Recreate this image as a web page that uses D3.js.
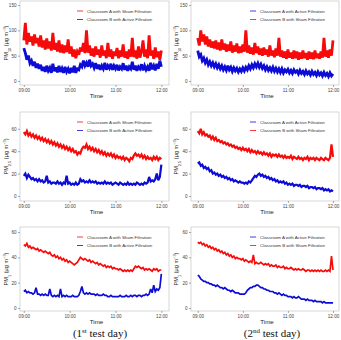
<!DOCTYPE html>
<html>
<head>
<meta charset="utf-8">
<script src="https://cdn.jsdelivr.net/npm/d3@7"></script>
<style>
  body { margin: 0; background: #fff; }
  svg { display: block; font-family: "Liberation Sans", Arial, sans-serif; }
</style>
</head>
<body>
<svg id="chart" width="341" height="340"></svg>
<script>
// sampling step of every series, minutes after 09:00
const stepMin = 2;
const timeTicks = [0, 60, 120, 180];
const timeLabels = ["09:00", "10:00", "11:00", "12:00"];

// PM10, day 1
const pm10Day1Red = [80, 115, 72, 95, 78, 88,
  70, 92, 75, 85, 68, 90, 66, 80, 62, 84, 64, 78, 60, 95, 62,
  75, 58, 80, 56, 72, 55, 70, 57, 82, 54, 68, 48, 62, 45, 58,
  52, 66, 58, 75, 55, 100, 56, 70, 50, 64, 48, 68, 52, 62, 46,
  70, 50, 60, 45, 75, 48, 62, 44, 58, 50, 65, 45, 60, 48, 72,
  46, 58, 44, 62, 48, 85, 47, 60, 44, 68, 46, 58, 80, 48, 62,
  45, 90, 50, 60, 44, 66, 47, 58, 42, 60];
const pm10Day1Blue = [65, 55, 42, 50, 35, 40,
  30, 38, 26, 34, 24, 32, 20, 28, 18, 30, 20, 26, 16, 34, 19,
  27, 17, 30, 18, 25, 16, 28, 18, 24, 15, 26, 17, 30, 16, 24,
  22, 32, 28, 40, 30, 36, 28, 42, 30, 34, 26, 35, 24, 32, 22,
  30, 24, 36, 22, 30, 25, 34, 22, 30, 24, 32, 21, 28, 24, 35,
  22, 30, 20, 28, 24, 38, 22, 30, 20, 28, 24, 33, 21, 30, 22,
  28, 20, 36, 23, 30, 21, 34, 24, 40, 28];
// PM10, day 2
const pm10Day2Red = [85, 70, 100, 78, 92, 72,
  88, 68, 82, 66, 78, 64, 80, 62, 76, 60, 82, 62, 74, 58, 72,
  60, 78, 56, 70, 58, 74, 55, 68, 56, 72, 58, 100, 56, 70, 54,
  66, 52, 75, 55, 68, 52, 64, 50, 66, 52, 62, 48, 70, 50, 60,
  47, 64, 50, 85, 48, 60, 46, 58, 44, 62, 46, 56, 44, 60, 45,
  58, 42, 56, 44, 60, 45, 55, 42, 58, 44, 56, 43, 60, 45, 54,
  44, 58, 46, 85, 48, 60, 46, 62, 50, 80];
const pm10Day2Blue = [60, 48, 52, 40, 45, 36,
  42, 32, 38, 30, 36, 28, 34, 26, 32, 24, 30, 22, 28, 21, 30,
  22, 27, 19, 26, 20, 25, 18, 24, 19, 26, 20, 27, 22, 30, 24,
  32, 26, 34, 28, 35, 27, 33, 25, 30, 22, 28, 21, 26, 20, 27,
  19, 25, 18, 24, 17, 24, 16, 22, 18, 23, 16, 21, 15, 22, 17,
  20, 14, 21, 15, 19, 13, 20, 14, 18, 12, 19, 13, 17, 11, 18,
  12, 16, 10, 17, 11, 15, 9, 16, 10, 14];

// PM2.5, day 1
const pm25Day1Red = [57, 55, 58, 54, 56, 53,
  55, 52, 54, 51, 53, 50, 52, 49, 51, 48, 50, 47, 49, 46, 48,
  45, 47, 44, 46, 43, 45, 42, 44, 41, 43, 40, 42, 39, 40, 37,
  39, 38, 42, 44, 43, 46, 42, 44, 41, 43, 40, 42, 39, 41, 38,
  40, 37, 39, 36, 38, 36, 38, 35, 37, 34, 36, 34, 35, 33, 35,
  32, 34, 33, 31, 34, 33, 36, 38, 36, 37, 35, 37, 34, 36, 33,
  35, 33, 34, 32, 35, 33, 35, 32, 34, 33];
const pm25Day1Blue = [18, 20, 16, 19, 17, 15,
  16, 14, 15, 13, 15, 13, 14, 12, 13, 18, 12, 13, 11, 12, 12,
  11, 13, 11, 12, 10, 12, 11, 18, 11, 12, 10, 11, 10, 12, 10,
  11, 15, 13, 14, 12, 13, 12, 14, 12, 13, 12, 13, 11, 12, 11,
  12, 11, 13, 11, 12, 11, 12, 10, 11, 12, 11, 10, 12, 11, 10,
  11, 10, 12, 10, 11, 10, 11, 10, 12, 11, 10, 11, 10, 12, 11,
  12, 17, 13, 14, 13, 15, 20, 14, 17, 28];
// PM2.5, day 2
const pm25Day2Red = [58, 56, 60, 55, 57, 54,
  55, 53, 54, 51, 53, 50, 52, 49, 50, 48, 49, 47, 48, 46, 47,
  45, 46, 44, 45, 43, 44, 42, 43, 41, 43, 41, 42, 40, 42, 39,
  41, 39, 40, 38, 40, 38, 39, 37, 39, 37, 38, 36, 38, 35, 37,
  36, 37, 35, 37, 35, 36, 34, 36, 34, 35, 34, 36, 33, 35, 34,
  33, 35, 33, 34, 32, 34, 33, 35, 32, 34, 33, 34, 32, 34, 33,
  32, 34, 33, 32, 34, 33, 32, 34, 46, 35];
const pm25Day2Blue = [29, 30, 27, 28, 25, 26,
  24, 25, 22, 23, 20, 21, 19, 20, 18, 19, 17, 18, 16, 17, 15,
  16, 14, 15, 13, 14, 13, 12, 13, 12, 12, 11, 12, 11, 13, 12,
  14, 16, 18, 17, 19, 20, 18, 19, 17, 18, 16, 17, 15, 16, 14,
  15, 13, 14, 12, 13, 12, 13, 11, 12, 10, 11, 10, 11, 9, 10,
  10, 9, 10, 8, 9, 9, 8, 9, 7, 8, 8, 7, 8, 6, 7,
  7, 6, 7, 5, 6, 5, 6, 4, 5, 4];

// PM1, day 1
const pm1Day1Red = [50, 49, 51, 48, 49, 47,
  48, 47, 46, 47, 45, 46, 45, 44, 45, 44, 43, 44, 42, 41, 42,
  40, 41, 39, 40, 38, 39, 37, 38, 36, 37, 36, 35, 34, 35, 36,
  38, 40, 39, 38, 39, 38, 37, 38, 36, 37, 36, 35, 36, 34, 35,
  34, 33, 34, 32, 33, 32, 33, 31, 32, 31, 31, 30, 31, 30, 29,
  30, 29, 30, 29, 30, 29, 31, 33, 32, 33, 32, 31, 32, 30, 31,
  30, 31, 30, 29, 31, 30, 31, 29, 30, 30];
const pm1Day1Blue = [13, 14, 12, 13, 12, 12,
  11, 12, 16, 11, 11, 10, 11, 10, 11, 10, 10, 15, 10, 9, 10,
  9, 10, 9, 15, 9, 10, 9, 10, 9, 9, 9, 10, 9, 9, 9,
  10, 13, 17, 12, 11, 12, 11, 12, 11, 11, 11, 10, 11, 10, 10,
  10, 11, 10, 10, 9, 9, 10, 9, 9, 9, 9, 9, 10, 9, 9,
  9, 10, 9, 9, 10, 9, 10, 10, 9, 10, 10, 9, 10, 10, 11,
  10, 11, 15, 12, 18, 13, 15, 14, 16, 27];
// PM1, day 2
const pm1Day2Red = [52, 51, 52, 50, 51, 49,
  50, 48, 49, 47, 48, 46, 47, 45, 46, 44, 45, 43, 44, 42, 43,
  41, 42, 40, 41, 39, 40, 39, 39, 38, 39, 37, 38, 37, 36, 37,
  36, 42, 35, 36, 35, 35, 36, 35, 34, 35, 34, 35, 33, 34, 33,
  33, 34, 32, 33, 32, 32, 33, 31, 32, 31, 31, 32, 31, 30, 31,
  30, 31, 30, 30, 31, 30, 29, 30, 30, 29, 30, 29, 30, 29, 30,
  29, 30, 29, 29, 30, 29, 30, 29, 41, 30];
const pm1Day2Blue = [26, 25, 23, 22, 21, 21,
  20, 20, 19, 19, 18, 18, 17, 18, 17, 16, 16, 15, 16, 15, 14,
  14, 13, 14, 13, 12, 12, 12, 11, 11, 11, 11, 12, 14, 15, 16,
  16, 17, 17, 18, 18, 17, 16, 16, 15, 15, 14, 14, 13, 13, 13,
  12, 12, 11, 12, 11, 10, 11, 10, 10, 9, 9, 9, 8, 9, 8,
  8, 9, 8, 7, 7, 7, 6, 7, 6, 6, 6, 5, 6, 5, 5,
  5, 5, 4, 5, 4, 4, 4, 4, 4, 4];

const pmTicks10 = [0, 50, 100, 150];
const pmTicksFine = [0, 20, 40, 60];
const legendDay1 = ["Classroom A with Sham Filtration", "Classroom B with Active Filtration"];
const legendDay2 = ["Classroom A with Active Filtration", "Classroom B with Sham Filtration"];

const red = "#f60a0a";
const blue = "#0c0cd6";

const svg = d3.select("#chart");

const cols = [
  { left: 20, right: 169, xDomain: [-5, 190], labelX: 8 },
  { left: 191, right: 339, xDomain: [-9, 188], labelX: 178 }
];
const rows = [
  { top: 1, bottom: 85, yDomain: [-8, 158], ticks: pmTicks10, sub: "10", width: 2.8 },
  { top: 112, bottom: 201, yDomain: [-4.5, 75], ticks: pmTicksFine, sub: "2.5", width: 2.2 },
  { top: 227, bottom: 311, yDomain: [-2.4, 64], ticks: pmTicksFine, sub: "1", width: 1.7 }
];

const panels = [
  { r: 0, c: 0, red: pm10Day1Red, blue: pm10Day1Blue, legend: legendDay1, legendColors: [red, blue] },
  { r: 0, c: 1, red: pm10Day2Red, blue: pm10Day2Blue, legend: legendDay2, legendColors: [blue, red] },
  { r: 1, c: 0, red: pm25Day1Red, blue: pm25Day1Blue, legend: legendDay1, legendColors: [red, blue] },
  { r: 1, c: 1, red: pm25Day2Red, blue: pm25Day2Blue, legend: legendDay2, legendColors: [blue, red] },
  { r: 2, c: 0, red: pm1Day1Red, blue: pm1Day1Blue, legend: legendDay1, legendColors: [red, blue] },
  { r: 2, c: 1, red: pm1Day2Red, blue: pm1Day2Blue, legend: legendDay2, legendColors: [blue, red] }
];

panels.forEach(p => {
  const col = cols[p.c], row = rows[p.r];
  const x = d3.scaleLinear().domain(col.xDomain).range([col.left, col.right]);
  const y = d3.scaleLinear().domain(row.yDomain).range([row.bottom, row.top]);
  const g = svg.append("g");

  const clipId = `clip-${p.r}-${p.c}`;
  g.append("clipPath").attr("id", clipId)
    .append("rect")
    .attr("x", col.left).attr("y", row.top)
    .attr("width", col.right - col.left).attr("height", row.bottom - row.top);

  const line = d3.line()
    .x((d, i) => x(i * stepMin))
    .y(d => y(d));

  // red first, blue on top
  [[p.red, red], [p.blue, blue]].forEach(([vals, color]) => {
    g.append("path")
      .datum(vals)
      .attr("clip-path", `url(#${clipId})`)
      .attr("fill", "none")
      .attr("stroke", color)
      .attr("stroke-width", row.width)
      .attr("stroke-linejoin", "miter")
      .attr("stroke-miterlimit", 3)
      .attr("d", line);
  });

  // panel border
  g.append("rect")
    .attr("x", col.left).attr("y", row.top)
    .attr("width", col.right - col.left).attr("height", row.bottom - row.top)
    .attr("fill", "none")
    .attr("stroke", "#bdbdbd")
    .attr("stroke-width", 0.6);

  // axes
  const xAxis = d3.axisBottom(x)
    .tickValues(timeTicks)
    .tickFormat((d, i) => timeLabels[i])
    .tickSize(2).tickPadding(1.5);
  const gx = g.append("g").attr("transform", `translate(0,${row.bottom})`).call(xAxis);
  const yAxis = d3.axisLeft(y).tickValues(row.ticks).tickSize(2).tickPadding(1.5);
  const gy = g.append("g").attr("transform", `translate(${col.left},0)`).call(yAxis);
  [gx, gy].forEach(a => {
    a.select(".domain").remove();
    a.selectAll(".tick line").attr("stroke", "#555").attr("stroke-width", 0.5);
    a.selectAll(".tick text").attr("fill", "#444").style("font-size", "4.6px");
  });

  // x title
  g.append("text")
    .attr("x", (col.left + col.right) / 2 + 2)
    .attr("y", row.bottom + 13)
    .attr("text-anchor", "middle")
    .style("font-size", "6.2px")
    .attr("fill", "#222")
    .text("Time");

  // y title PMx (μg m-3)
  const yt = g.append("text")
    .attr("transform", `translate(${col.labelX},${(row.top + row.bottom) / 2}) rotate(-90)`)
    .attr("text-anchor", "middle")
    .style("font-size", "5.6px")
    .attr("fill", "#222");
  yt.append("tspan").text("PM");
  yt.append("tspan").attr("baseline-shift", "sub").style("font-size", "3.9px").text(row.sub);
  yt.append("tspan").text(" (\u03bcg m");
  yt.append("tspan").attr("baseline-shift", "super").style("font-size", "3.9px").text("\u22123");
  yt.append("tspan").text(")");

  // legend
  const lx = col.left + (p.c === 0 ? 57 : 59);
  p.legend.forEach((label, i) => {
    const ly = row.top + 10 + i * 8.5;
    g.append("line")
      .attr("x1", lx).attr("x2", lx + 6)
      .attr("y1", ly).attr("y2", ly)
      .attr("stroke", p.legendColors[i])
      .attr("stroke-width", 0.8);
    g.append("text")
      .attr("x", lx + 10).attr("y", ly + 1.5)
      .style("font-size", "4.4px")
      .attr("fill", "#333")
      .text(label);
  });
});

// day captions
const captions = [
  { x: 100, ord: "1", sup: "st" },
  { x: 272, ord: "2", sup: "nd" }
];
captions.forEach(cp => {
  const t = svg.append("text")
    .attr("x", cp.x).attr("y", 337)
    .attr("text-anchor", "middle")
    .style("font-family", "'Liberation Serif', 'Times New Roman', serif")
    .style("font-size", "11px")
    .attr("fill", "#111");
  t.append("tspan").text("(" + cp.ord);
  t.append("tspan").attr("baseline-shift", "super").style("font-size", "7px").text(cp.sup);
  t.append("tspan").text(" test day)");
});
</script>
</body>
</html>
